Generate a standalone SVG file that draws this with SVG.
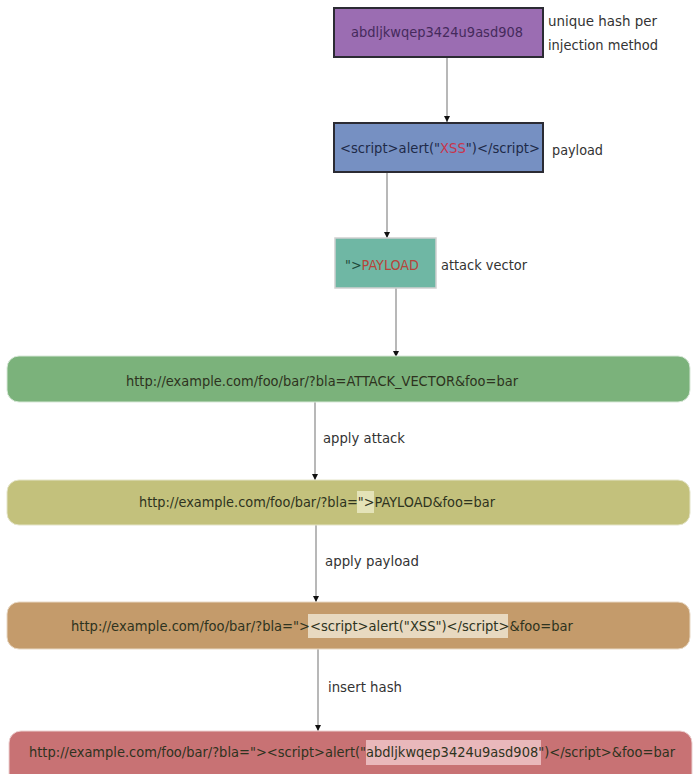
<svg xmlns="http://www.w3.org/2000/svg" width="694" height="774" viewBox="0 0 694 774">
<style>
text{font-family:"DejaVu Sans Condensed","DejaVu Sans","Liberation Sans",sans-serif;font-size:14px}
.lbl{fill:#333}
.bt{fill:#2e3320}
.edge{stroke:#a0a0a0;stroke-width:1.5;fill:none;marker-end:url(#ah)}
</style>
<defs>
<marker id="ah" viewBox="0 0 10 10" refX="10" refY="5" markerWidth="6" markerHeight="8" markerUnits="userSpaceOnUse" orient="auto">
<path d="M0,0 L10,5 L0,10 z" fill="#111"/>
</marker>
</defs>
<rect width="694" height="774" fill="#fff"/>
<g id="connectors">
<line class="edge" x1="447" y1="57" x2="447" y2="122"/>
<line class="edge" x1="387" y1="172" x2="387" y2="238"/>
<line class="edge" x1="396" y1="288" x2="396" y2="357"/>
<line class="edge" x1="315" y1="402" x2="315" y2="480"/>
<line class="edge" x1="316" y1="525" x2="316" y2="602"/>
<line class="edge" x1="318" y1="649" x2="318" y2="731"/>
<text class="lbl" x="323" y="443" textLength="82" lengthAdjust="spacingAndGlyphs">apply attack</text>
<text class="lbl" x="325" y="566" textLength="94" lengthAdjust="spacingAndGlyphs">apply payload</text>
<text class="lbl" x="328" y="692" textLength="74" lengthAdjust="spacingAndGlyphs">insert hash</text>
</g>
<g id="hash">
<rect x="334" y="8" width="209" height="49" fill="#9b6db2" stroke="#2b2b33" stroke-width="2"/>
<text x="351" y="37" fill="#452a5c" textLength="172" lengthAdjust="spacingAndGlyphs">abdljkwqep3424u9asd908</text>
<text class="lbl" x="548" y="26" textLength="109" lengthAdjust="spacingAndGlyphs">unique hash per</text>
<text class="lbl" x="548" y="50" textLength="110" lengthAdjust="spacingAndGlyphs">injection method</text>
</g>
<g id="payload">
<rect x="334" y="123" width="209" height="49" fill="#7690c2" stroke="#2b2b33" stroke-width="2"/>
<text x="340" y="153" fill="#1e2a48" textLength="200" lengthAdjust="spacingAndGlyphs">&lt;script&gt;alert("<tspan fill="#c8344c">XSS</tspan>")&lt;/script&gt;</text>
<text class="lbl" x="552" y="155" textLength="51" lengthAdjust="spacingAndGlyphs">payload</text>
</g>
<g id="vector">
<rect x="335" y="238" width="101" height="50" fill="#6fb7a4" stroke="#d0d0d0" stroke-width="1.5"/>
<text x="345" y="270" fill="#1d4a3a" textLength="74" lengthAdjust="spacingAndGlyphs">"&gt;<tspan fill="#b8443a">PAYLOAD</tspan></text>
<text class="lbl" x="441" y="270" textLength="86" lengthAdjust="spacingAndGlyphs">attack vector</text>
</g>
<g id="url-template">
<rect x="7" y="356" width="683" height="46" rx="12" fill="#7bb27b" stroke="#d8e8d8" stroke-width="1"/>
<text class="bt" x="126" y="386" fill="#1f3a1f" textLength="392" lengthAdjust="spacingAndGlyphs">http://example.com/foo/bar/?bla=ATTACK_VECTOR&amp;foo=bar</text>
</g>
<g id="url-attack">
<rect x="7" y="480" width="683" height="45" rx="12" fill="#c3c17c" stroke="#e4e4c8" stroke-width="1"/>
<rect x="357" y="491" width="17" height="22" fill="#e4e3b8"/>
<text class="bt" x="139" y="507" textLength="356" lengthAdjust="spacingAndGlyphs">http://example.com/foo/bar/?bla="&gt;PAYLOAD&amp;foo=bar</text>
</g>
<g id="url-payload">
<rect x="7" y="602" width="683" height="47" rx="12" fill="#c49b6b" stroke="#e8d8c4" stroke-width="1"/>
<rect x="308" y="614" width="200" height="24" fill="#e8d9c0"/>
<text class="bt" x="71" y="631" textLength="502" lengthAdjust="spacingAndGlyphs">http://example.com/foo/bar/?bla="&gt;&lt;script&gt;alert("XSS")&lt;/script&gt;&amp;foo=bar</text>
</g>
<g id="url-final">
<rect x="9" y="731" width="683" height="56" rx="12" fill="#c87274" stroke="#ecd0d0" stroke-width="1"/>
<rect x="366" y="740" width="175" height="25" fill="#e9b8bb"/>
<text class="bt" x="29" y="757" fill="#3a1a1a" textLength="646" lengthAdjust="spacingAndGlyphs">http://example.com/foo/bar/?bla="&gt;&lt;script&gt;alert("abdljkwqep3424u9asd908")&lt;/script&gt;&amp;foo=bar</text>
</g>
</svg>
